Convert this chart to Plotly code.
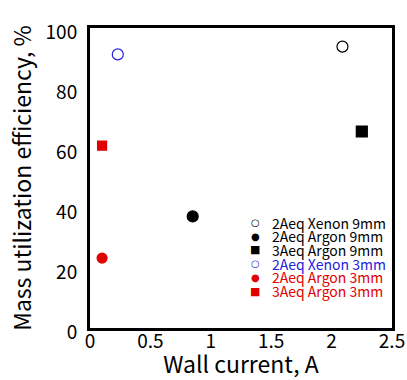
import plotly.graph_objects as go

names = ["2Aeq Xenon 9mm", "2Aeq Argon 9mm", "3Aeq Argon 9mm",
         "2Aeq Xenon 3mm", "2Aeq Argon 3mm", "3Aeq Argon 3mm"]
wall_current = [2.09, 0.85, 2.25, 0.23, 0.10, 0.10]
efficiency = [93.8, 37.2, 65.5, 91.2, 23.3, 60.8]
colors = ["black", "black", "black", "#2222dd", "#e00000", "#e00000"]
symbols = ["circle-open", "circle", "square", "circle-open", "circle", "square"]
legend_glyphs = ["○", "●", "■", "○", "●", "■"]
sizes = [11, 11, 11, 11, 10, 9]

fig = go.Figure()
for n, x, y, c, s, sz in zip(names, wall_current, efficiency, colors, symbols, sizes):
    fig.add_trace(go.Scatter(
        x=[x], y=[y], mode="markers", name=n, showlegend=False,
        marker=dict(color=c, symbol=s, size=sz, line=dict(color=c, width=1.2)),
    ))

font = "Noto Sans CJK JP"
# custom legend (text annotations) in the lower right
W, H = 407, 380
L, R, T, B = 90, 15, 28, 52
pw, ph = W - L - R, H - T - B
row0, dy = 222.5, 13.7
for i, (n, c, g) in enumerate(zip(names, colors, legend_glyphs)):
    yc = row0 + i * dy
    yp = 1 - (yc - T) / ph
    fig.add_annotation(x=(255 - L) / pw, y=yp, xref="paper", yref="paper",
                       text=g, showarrow=False, xanchor="center", yanchor="middle",
                       borderpad=0,
                       font=dict(family="DejaVu Sans", size=10 if g != "■" else 11, color=c))
    fig.add_annotation(x=(271 - L) / pw, y=yp, xref="paper", yref="paper",
                       text=n, showarrow=False, xanchor="left", yanchor="middle",
                       borderpad=0,
                       font=dict(family=font, size=14, color=c))

fig.update_layout(
    width=W, height=H,
    margin=dict(l=L, r=R, t=T, b=B),
    paper_bgcolor="white", plot_bgcolor="white",
    font=dict(family=font, size=19, color="black"),
    showlegend=False,
    xaxis=dict(range=[0, 2.5], tickvals=[0, 0.5, 1, 1.5, 2, 2.5],
               ticktext=["0", "0.5", "1", "1.5", "2", "2.5"],
               showgrid=False, zeroline=False, showline=True, mirror=True,
               linecolor="black", linewidth=3, ticks="", ticklabelstandoff=-6,
               automargin=False,
               title=dict(text="Wall current, A", standoff=16)),
    yaxis=dict(range=[0, 100], tickvals=[0, 20, 40, 60, 80, 100],
               showgrid=False, zeroline=False, showline=True, mirror=True,
               linecolor="black", linewidth=3, ticks="", ticklabelstandoff=6,
               ticklabelshift=4, automargin=False,
               title=dict(text="Mass utilization efficiency, %", standoff=8)),
)

fig.write_html("out.html", config={"displayModeBar": False},
               post_script="document.body.style.margin='0px';document.body.style.overflow='hidden';")
